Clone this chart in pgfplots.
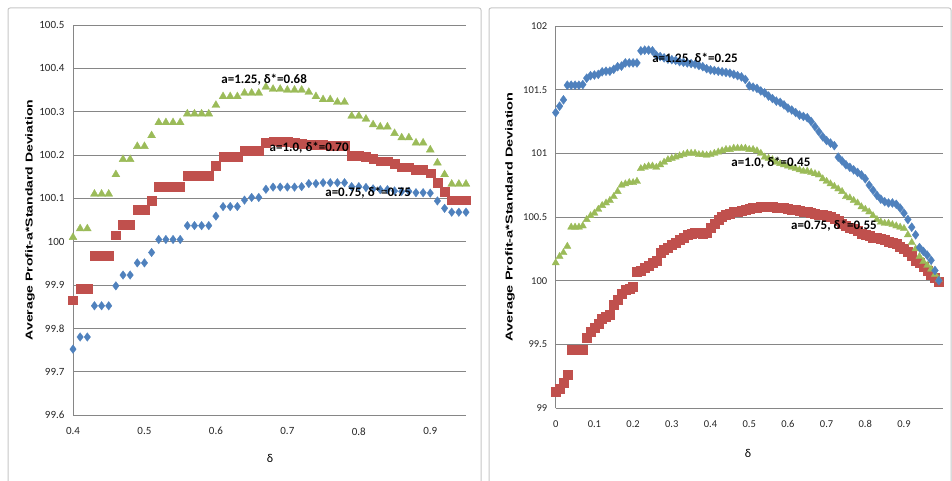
\documentclass[border=0pt]{standalone}
\usepackage{fontspec}
\setmainfont{Carlito}
\newfontfamily\arialfont{Liberation Sans}
\usepackage{graphicx}
\usepackage{pgfplots}
\usepackage{pgfplotstable}
\pgfplotsset{compat=1.18}
\definecolor{xlblue}{HTML}{4F81BD}
\definecolor{xlred}{HTML}{C0504D}
\definecolor{xlgreen}{HTML}{9BBB59}
\definecolor{gridc}{HTML}{868686}

\pgfplotstableread{
d b r g
0.40 99.752 99.865 100.010
0.41 99.780 99.892 100.030
0.42 99.780 99.892 100.030
0.43 99.852 99.968 100.110
0.44 99.852 99.968 100.110
0.45 99.852 99.968 100.110
0.46 99.898 100.015 100.155
0.47 99.923 100.040 100.190
0.48 99.923 100.040 100.190
0.49 99.951 100.073 100.220
0.50 99.951 100.073 100.220
0.51 99.975 100.095 100.245
0.52 100.005 100.127 100.275
0.53 100.005 100.127 100.275
0.54 100.005 100.127 100.275
0.55 100.005 100.127 100.275
0.56 100.037 100.152 100.295
0.57 100.037 100.152 100.295
0.58 100.037 100.152 100.295
0.59 100.037 100.152 100.295
0.60 100.059 100.175 100.315
0.61 100.081 100.196 100.335
0.62 100.081 100.196 100.335
0.63 100.081 100.196 100.335
0.64 100.096 100.210 100.343
0.65 100.102 100.210 100.343
0.66 100.102 100.210 100.343
0.67 100.121 100.228 100.357
0.68 100.126 100.232 100.352
0.69 100.126 100.230 100.352
0.70 100.126 100.230 100.350
0.71 100.126 100.228 100.350
0.72 100.127 100.226 100.350
0.73 100.134 100.225 100.345
0.74 100.134 100.224 100.335
0.75 100.136 100.223 100.328
0.76 100.136 100.222 100.328
0.77 100.136 100.222 100.322
0.78 100.136 100.222 100.322
0.79 100.127 100.198 100.290
0.80 100.127 100.198 100.290
0.81 100.125 100.196 100.283
0.82 100.122 100.192 100.270
0.83 100.120 100.186 100.265
0.84 100.120 100.186 100.265
0.85 100.117 100.180 100.250
0.86 100.116 100.172 100.240
0.87 100.116 100.172 100.240
0.88 100.113 100.166 100.228
0.89 100.113 100.166 100.228
0.90 100.112 100.158 100.212
0.91 100.094 100.136 100.182
0.92 100.077 100.115 100.155
0.93 100.068 100.096 100.133
0.94 100.068 100.096 100.133
0.95 100.068 100.096 100.133
}\lefttab

\pgfplotstableread{
d b g r
0.00 101.32 100.14 99.125
0.01 101.37 100.19 99.15
0.02 101.42 100.22 99.20
0.03 101.535 100.27 99.26
0.04 101.535 100.42 99.455
0.05 101.535 100.42 99.455
0.06 101.535 100.42 99.455
0.07 101.54 100.43 99.46
0.08 101.59 100.48 99.55
0.09 101.61 100.51 99.60
0.10 101.615 100.53 99.63
0.11 101.62 100.56 99.66
0.12 101.64 100.59 99.70
0.13 101.645 100.61 99.72
0.14 101.645 100.63 99.73
0.15 101.66 100.66 99.81
0.16 101.68 100.70 99.85
0.17 101.685 100.75 99.90
0.18 101.71 100.76 99.93
0.19 101.71 100.77 99.94
0.20 101.71 100.77 99.95
0.21 101.71 100.78 100.07
0.22 101.805 100.88 100.08
0.23 101.81 100.89 100.10
0.24 101.81 100.90 100.12
0.25 101.805 100.90 100.14
0.26 101.77 100.89 100.16
0.27 101.76 100.91 100.22
0.28 101.75 100.93 100.24
0.29 101.74 100.95 100.26
0.30 101.735 100.96 100.28
0.31 101.73 100.97 100.30
0.32 101.72 100.98 100.32
0.33 101.715 100.99 100.34
0.34 101.71 101.00 100.36
0.35 101.705 101.00 100.37
0.36 101.70 101.00 100.38
0.37 101.69 100.99 100.38
0.38 101.68 100.99 100.37
0.39 101.665 100.985 100.38
0.40 101.655 100.99 100.42
0.41 101.65 101.00 100.45
0.42 101.645 101.01 100.48
0.43 101.64 101.02 100.50
0.44 101.635 101.03 100.52
0.45 101.63 101.03 100.53
0.46 101.62 101.04 100.54
0.47 101.61 101.04 100.545
0.48 101.60 101.04 100.55
0.49 101.58 101.04 100.56
0.50 101.53 101.03 100.565
0.51 101.52 101.03 100.57
0.52 101.51 101.02 100.575
0.53 101.49 101.00 100.58
0.54 101.475 100.97 100.58
0.55 101.45 100.96 100.58
0.56 101.43 100.95 100.58
0.57 101.41 100.93 100.575
0.58 101.40 100.92 100.57
0.59 101.38 100.91 100.57
0.60 101.355 100.90 100.565
0.61 101.34 100.89 100.56
0.62 101.32 100.88 100.555
0.63 101.30 100.87 100.55
0.64 101.29 100.86 100.545
0.65 101.28 100.86 100.54
0.66 101.25 100.85 100.535
0.67 101.21 100.84 100.53
0.68 101.17 100.83 100.52
0.69 101.13 100.80 100.52
0.70 101.10 100.78 100.51
0.71 101.08 100.76 100.50
0.72 101.06 100.74 100.49
0.73 100.97 100.72 100.47
0.74 100.94 100.70 100.45
0.75 100.91 100.66 100.43
0.76 100.89 100.65 100.42
0.77 100.87 100.63 100.41
0.78 100.85 100.61 100.39
0.79 100.83 100.58 100.37
0.80 100.80 100.56 100.36
0.81 100.75 100.54 100.35
0.82 100.71 100.51 100.34
0.83 100.67 100.48 100.335
0.84 100.64 100.46 100.33
0.85 100.62 100.45 100.32
0.86 100.61 100.45 100.31
0.87 100.61 100.44 100.30
0.88 100.60 100.43 100.29
0.89 100.57 100.42 100.27
0.90 100.53 100.41 100.25
0.91 100.48 100.36 100.23
0.92 100.42 100.30 100.20
0.93 100.36 100.25 100.16
0.94 100.26 100.19 100.14
0.95 100.23 100.15 100.11
0.96 100.20 100.12 100.08
0.97 100.16 100.09 100.05
0.98 100.08 100.05 100.02
0.99 100.00 100.01 99.99
}\righttab

\pgfplotsset{
  xlstyle/.style={
    scale only axis,
    axis x line*=bottom, axis y line*=left,
    axis line style={-, draw=gridc, line width=0.8pt},
    ymajorgrids, grid style={draw=gridc, line width=0.8pt},
    major tick length=0pt,
    enlargelimits=false, clip=false,
    /pgf/number format/assume math mode=true,
    /pgf/number format/fixed,
    /pgf/number format/precision=2,
    tick label style={text=black!85},
    yticklabel style={xshift=-5pt},
    xticklabel style={yshift=-9pt},
  },
}
\tikzset{lab/.style={font=\bfseries\fontsize{13}{14}\selectfont, text=black, inner sep=0pt}}

\begin{document}
\begin{tikzpicture}[x=1pt,y=1pt]
\path[use as bounding box] (0,0) rectangle (952,481);
\draw[gray!45, line width=1pt, rounded corners=2pt] (8,-6) rectangle (481,473);
\draw[gray!45, line width=1pt, rounded corners=2pt] (489,-6) rectangle (951,473);

\begin{axis}[xlstyle, at={(73pt,66pt)}, anchor=south west,
  width=393pt, height=390pt,
  xmin=0.4, xmax=0.95, ymin=99.6, ymax=100.5,
  xtick={0.4,0.5,0.6,0.7,0.8,0.9},
  ytick={99.6,99.7,99.8,99.9,100,100.1,100.2,100.3,100.4,100.5},
  tick label style={font=\fontsize{11}{12}\selectfont},
]
\addplot[only marks, mark=diamond*, mark size=4.3pt, color=xlblue, mark options={fill=xlblue, draw=xlblue, line width=0.3pt}] table[x=d, y=b] {\lefttab};
\addplot[only marks, mark=square*, mark size=4.4pt, color=xlred, mark options={fill=xlred, draw=xlred, line width=0.3pt}] table[x=d, y=r] {\lefttab};
\addplot[only marks, mark=triangle*, mark size=4.6pt, color=xlgreen, mark options={fill=xlgreen, draw=xlgreen, line width=0.3pt}] table[x=d, y=g] {\lefttab};
\coordinate (LA) at (axis cs:0.6675,100.373);
\coordinate (LB) at (axis cs:0.7305,100.216);
\coordinate (LC) at (axis cs:0.813,100.112);
\end{axis}

\begin{axis}[xlstyle, at={(555.7pt,73pt)}, anchor=south west,
  width=387pt, height=382pt,
  xmin=0, xmax=1, ymin=99, ymax=102,
  xtick={0,0.1,0.2,0.3,0.4,0.5,0.6,0.7,0.8,0.9},
  ytick={99,99.5,100,100.5,101,101.5,102},
  tick label style={font=\fontsize{10.5}{12}\selectfont},
]
\addplot[only marks, mark=square*, mark size=4.5pt, color=xlred, mark options={fill=xlred, draw=xlred, line width=0.3pt}] table[x=d, y=r] {\righttab};
\addplot[only marks, mark=triangle*, mark size=4.2pt, color=xlgreen, mark options={fill=xlgreen, draw=xlgreen, line width=0.3pt}] table[x=d, y=g] {\righttab};
\addplot[only marks, mark=diamond*, mark size=4.5pt, color=xlblue, mark options={fill=xlblue, draw=xlblue, line width=0.3pt}] table[x=d, y=b] {\righttab};
\coordinate (RA) at (axis cs:0.36,101.74);
\coordinate (RB) at (axis cs:0.556,100.93);
\coordinate (RC) at (axis cs:0.719,100.43);
\end{axis}

\node[lab] at (LA) {a=1.25, δ*=0.68};
\node[lab] at (LB) {a=1.0, δ*=0.70};
\node[lab] at (LC) {a=0.75, δ*=0.75};
\node[lab] at (RA) {a=1.25, δ*=0.25};
\node[lab] at (RB) {a=1.0, δ*=0.45};
\node[lab] at (RC) {a=0.75, δ*=0.55};

\node[rotate=90, inner sep=0pt] at (30,261) {\scalebox{1.4}[1]{\arialfont\bfseries\fontsize{10}{12}\selectfont Average Profit-a*Standard  Deviation}};
\node[rotate=90, inner sep=0pt] at (510,264) {\scalebox{1.45}[1]{\arialfont\bfseries\fontsize{10}{12}\selectfont Average Profit-a*Standard Deviation}};
\node[font=\fontsize{12}{14}\selectfont] at (270,23) {δ};
\node[font=\fontsize{12}{14}\selectfont] at (748,28) {δ};
\end{tikzpicture}
\end{document}
